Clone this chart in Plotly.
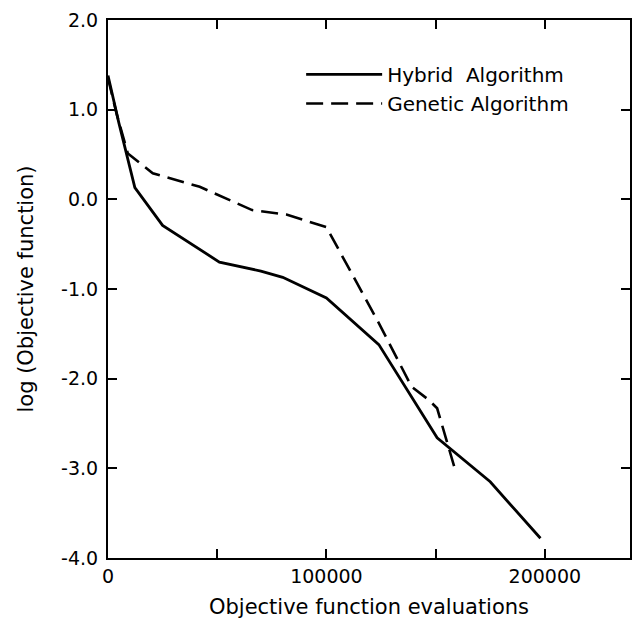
import plotly.graph_objects as go

# Hybrid Algorithm (solid)
hybrid_x = [0, 5000, 12300, 25000, 51000, 70000, 80000, 100000, 124000, 150700, 175000, 198000]
hybrid_y = [1.38, 0.85, 0.13, -0.29, -0.70, -0.80, -0.87, -1.10, -1.62, -2.66, -3.15, -3.78]

# Genetic Algorithm (dashed)
genetic_x = [0, 4000, 9100, 20500, 42000, 66000, 81700, 100000, 124000, 139000, 147000, 150700, 159000]
genetic_y = [1.35, 0.95, 0.51, 0.29, 0.14, -0.12, -0.17, -0.31, -1.38, -2.09, -2.24, -2.33, -3.02]

x_tickvals = [0, 50000, 100000, 150000, 200000]
x_ticktext = ["0", "", "100000", "", "200000"]
y_tickvals = [2.0, 1.0, 0.0, -1.0, -2.0, -3.0, -4.0]
y_ticktext = ["2.0", "1.0", "0.0", "-1.0", "-2.0", "-3.0", "-4.0"]

fig = go.Figure()
fig.add_trace(go.Scatter(x=hybrid_x, y=hybrid_y, mode="lines", name="Hybrid  Algorithm",
                         line=dict(color="black", width=2.8)))
fig.add_trace(go.Scatter(x=genetic_x, y=genetic_y, mode="lines", name="Genetic Algorithm",
                         line=dict(color="black", width=2.6, dash="17px,8px")))

font = "DejaVu Sans, Verdana, sans-serif"
fig.update_layout(
    width=635, height=626,
    margin=dict(l=108, r=3, t=20, b=68),
    paper_bgcolor="white", plot_bgcolor="white",
    font=dict(family=font, size=19, color="black"),
    showlegend=True,
    legend=dict(x=0.37, y=0.935, xanchor="left", yanchor="top",
                bgcolor="rgba(0,0,0,0)", font=dict(size=20), itemwidth=76),
    xaxis=dict(range=[0, 239000], tickvals=x_tickvals, ticktext=x_ticktext,
               ticks="inside", ticklen=9, tickwidth=2, tickcolor="black",
               showline=True, linecolor="black", linewidth=2, mirror="ticks",
               showgrid=False, zeroline=False,
               title=dict(text="Objective function evaluations", font=dict(size=21), standoff=14)),
    yaxis=dict(range=[-4.0, 2.0], tickvals=y_tickvals, ticktext=y_ticktext,
               ticks="inside", ticklen=9, tickwidth=2, tickcolor="black",
               showline=True, linecolor="black", linewidth=2, mirror="ticks",
               showgrid=False, zeroline=False, ticklabelstandoff=4,
               title=dict(text="log (Objective function)", font=dict(size=21), standoff=22)),
)

fig.write_html("out.html")
